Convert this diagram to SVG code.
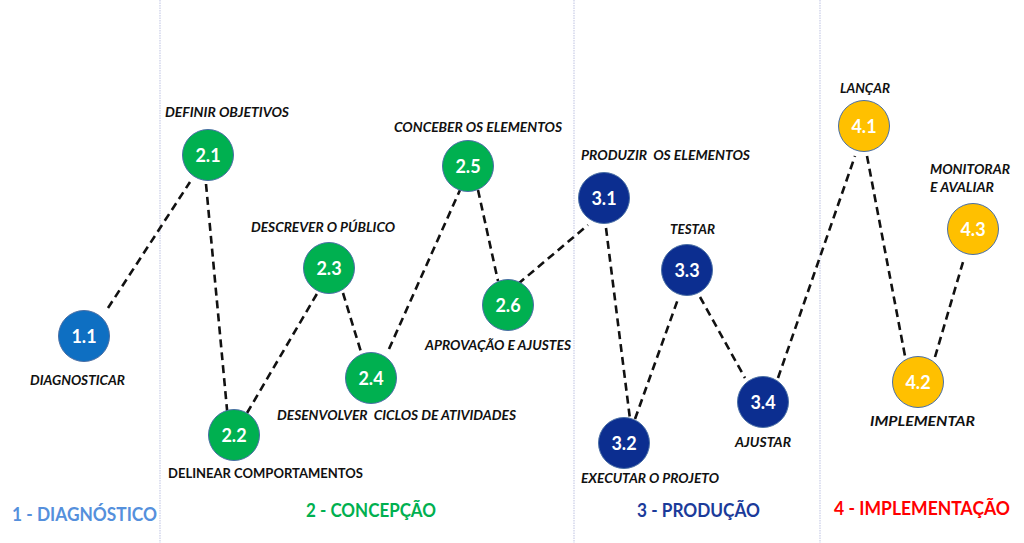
<svg xmlns="http://www.w3.org/2000/svg" width="1024" height="543" viewBox="0 0 1024 543">
<style>
.div{stroke:#D3D6EC;stroke-width:1.5;stroke-dasharray:1.5 1}
.c{stroke:#4A6FA5;stroke-width:1}
.num{font-family:Lato,"Open Sans","Liberation Sans",sans-serif;font-weight:bold;font-size:18px;fill:#fff;text-anchor:middle}
.lbl{font-family:Lato,"Open Sans","Liberation Sans",sans-serif;font-weight:bold;font-style:italic;font-size:14px;fill:#111}
.up{font-style:normal}
.sec{font-family:Lato,"Open Sans","Liberation Sans",sans-serif;font-weight:bold;font-size:18.5px}
.b1{fill:#0E6FC2}.g{fill:#00B050}.n{fill:#0C2E90}.y{fill:#FFC000}
#conn line{stroke:#111;stroke-width:2.6;stroke-dasharray:8 5;fill:none}
</style>
<rect width="1024" height="543" fill="#fff"/>
<g id="dividers">
<line class="div" x1="160" y1="0" x2="160" y2="543"/>
<line class="div" x1="574" y1="0" x2="574" y2="543"/>
<line class="div" x1="820" y1="0" x2="820" y2="543"/>
</g>
<g id="conn">
<line x1="108" y1="308" x2="190" y2="182"/>
<line x1="206" y1="184" x2="228" y2="420"/>
<line x1="247" y1="413" x2="318" y2="292"/>
<line x1="343" y1="293" x2="361" y2="352"/>
<line x1="389" y1="349" x2="460" y2="190"/>
<line x1="478" y1="190" x2="498" y2="281"/>
<line x1="518" y1="284" x2="588" y2="225"/>
<line x1="606" y1="228" x2="630" y2="419"/>
<line x1="635" y1="419" x2="678" y2="299"/>
<line x1="700" y1="297" x2="745" y2="378"/>
<line x1="778" y1="378" x2="855" y2="156"/>
<line x1="867" y1="156" x2="905" y2="356"/>
<line x1="935" y1="357" x2="963" y2="262"/>
</g>
<g id="n11"><circle class="c b1" cx="84" cy="336" r="25.5"/><text class="num" x="84" y="342.5">1.1</text><text class="lbl" x="30" y="385" textLength="95" lengthAdjust="spacingAndGlyphs">DIAGNOSTICAR</text></g>
<g id="n21"><circle class="c g" cx="208" cy="155" r="25.5"/><text class="num" x="208" y="161.5">2.1</text><text class="lbl" x="165" y="117" textLength="124" lengthAdjust="spacingAndGlyphs">DEFINIR OBJETIVOS</text></g>
<g id="n22"><circle class="c g" cx="234" cy="435" r="25.5"/><text class="num" x="234" y="441.5">2.2</text><text class="lbl up" x="168" y="478" textLength="195" lengthAdjust="spacingAndGlyphs">DELINEAR COMPORTAMENTOS</text></g>
<g id="n23"><circle class="c g" cx="329" cy="268" r="25.5"/><text class="num" x="329" y="274.5">2.3</text><text class="lbl" x="251" y="232" textLength="144" lengthAdjust="spacingAndGlyphs">DESCREVER O PÚBLICO</text></g>
<g id="n24"><circle class="c g" cx="371" cy="378" r="25.5"/><text class="num" x="371" y="384.5">2.4</text><text class="lbl" x="277" y="420" textLength="239" lengthAdjust="spacingAndGlyphs" xml:space="preserve">DESENVOLVER  CICLOS DE ATIVIDADES</text></g>
<g id="n25"><circle class="c g" cx="468" cy="166" r="25.5"/><text class="num" x="468" y="172.5">2.5</text><text class="lbl" x="394" y="132" textLength="168" lengthAdjust="spacingAndGlyphs">CONCEBER OS ELEMENTOS</text></g>
<g id="n26"><circle class="c g" cx="508" cy="305" r="25.5"/><text class="num" x="508" y="311.5">2.6</text><text class="lbl" x="425" y="350" textLength="146" lengthAdjust="spacingAndGlyphs">APROVAÇÃO E AJUSTES</text></g>
<g id="n31"><circle class="c n" cx="604" cy="198" r="25.5"/><text class="num" x="604" y="204.5">3.1</text><text class="lbl" x="581" y="160" textLength="169" lengthAdjust="spacingAndGlyphs" xml:space="preserve">PRODUZIR  OS ELEMENTOS</text></g>
<g id="n32"><circle class="c n" cx="624" cy="443" r="25.5"/><text class="num" x="624" y="449.5">3.2</text><text class="lbl" x="581" y="483" textLength="138" lengthAdjust="spacingAndGlyphs">EXECUTAR O PROJETO</text></g>
<g id="n33"><circle class="c n" cx="687" cy="270" r="25.5"/><text class="num" x="687" y="276.5">3.3</text><text class="lbl" x="670" y="234" textLength="45" lengthAdjust="spacingAndGlyphs">TESTAR</text></g>
<g id="n34"><circle class="c n" cx="763" cy="402" r="25.5"/><text class="num" x="763" y="408.5">3.4</text><text class="lbl" x="735" y="447" textLength="56" lengthAdjust="spacingAndGlyphs">AJUSTAR</text></g>
<g id="n41"><circle class="c y" cx="864" cy="126" r="25.5"/><text class="num" x="864" y="132.5">4.1</text><text class="lbl" x="840" y="93" textLength="50" lengthAdjust="spacingAndGlyphs">LANÇAR</text></g>
<g id="n42"><circle class="c y" cx="918" cy="382" r="25.5"/><text class="num" x="918" y="388.5">4.2</text><text class="lbl" x="870" y="426" textLength="105" lengthAdjust="spacingAndGlyphs">IMPLEMENTAR</text></g>
<g id="n43"><circle class="c y" cx="973" cy="229" r="25.5"/><text class="num" x="973" y="235.5">4.3</text><text class="lbl" x="930" y="174" textLength="80" lengthAdjust="spacingAndGlyphs">MONITORAR</text><text class="lbl" x="930" y="192" textLength="64" lengthAdjust="spacingAndGlyphs">E AVALIAR</text></g>
<g id="sections">
<text class="sec" x="12" y="521" fill="#5590DC" textLength="145" lengthAdjust="spacingAndGlyphs">1 - DIAGNÓSTICO</text>
<text class="sec" x="306" y="517" fill="#00B050" textLength="130" lengthAdjust="spacingAndGlyphs">2 - CONCEPÇÃO</text>
<text class="sec" x="637" y="517" fill="#1B3B9A" textLength="123" lengthAdjust="spacingAndGlyphs">3 - PRODUÇÃO</text>
<text class="sec" x="834" y="515" fill="#FF0000" textLength="176" lengthAdjust="spacingAndGlyphs">4 - IMPLEMENTAÇÃO</text>
</g>
</svg>
